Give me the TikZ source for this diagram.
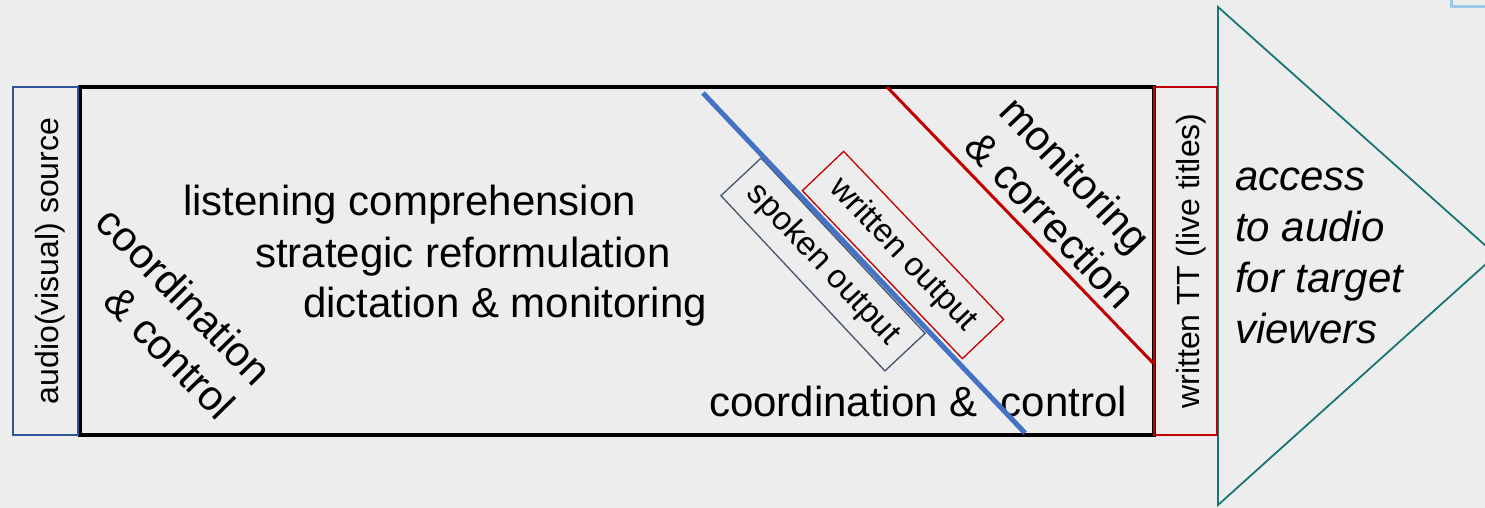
\documentclass[tikz,border=0pt]{standalone}
\usepackage{fontspec}
\setmainfont{Liberation Sans}
\definecolor{bg}{RGB}{237,237,237}
\definecolor{darkred}{RGB}{192,0,0}
\definecolor{lineblue}{RGB}{68,114,196}
\definecolor{srcblue}{RGB}{47,85,151}
\definecolor{slate}{RGB}{68,84,106}
\definecolor{tealline}{RGB}{24,118,114}
\definecolor{skyblue}{RGB}{157,200,230}
\begin{document}
\begin{tikzpicture}[x=1pt,y=-1pt,
  big/.style={font=\fontsize{42}{50}\selectfont, inner sep=0pt},
  mid/.style={font=\fontsize{32}{38}\selectfont},
  small/.style={font=\fontsize{33}{38}\selectfont},
  sidebox/.style={line width=#1, minimum width=348pt, rotate=90, mid},
  outbox/.style={line width=1.3pt, small, inner sep=2pt},
]
% canvas
\fill[bg] (0,0) rectangle (1485,508);
\useasboundingbox (0,0) rectangle (1485,508);

% output arrow (triangle)
\coordinate (tA) at (1218,7);
\coordinate (tB) at (1218,505);
\coordinate (tC) at (1496,255);
\draw[tealline, line width=1.8pt, line join=miter] (tA) -- (tC) -- (tB) -- cycle;

% main process box
\node[draw, line width=4pt, minimum width=1074pt, minimum height=348pt] (main) at (617,261) {};

% source and target side boxes
\node[draw=srcblue, sidebox=1.5pt, minimum height=65pt, text height=33pt] (src) at (45.5,261) {audio(visual) source};
\node[draw=darkred, sidebox=2pt, minimum height=63pt, text height=35pt] (tt) at (1185.5,261) {written TT (live titles)};

% task list
\node[big, anchor=base west] (t1) at (183,215) {listening comprehension};
\node[big, anchor=base west] (t2) at (255,267) {strategic reformulation};
\node[big, anchor=base west] (t3) at (303,317) {dictation \& monitoring};
\node[big, anchor=base west] (t4) at (709,416) {coordination \&\ \ control};

% diagonal labels
\node[big, rotate=-45.5, align=center] (cc) at (167,313.5) {coordination\\\hspace*{60pt}\& control};
\node[big, rotate=-46.5, align=center] (mc) at (1058,191) {monitoring\\\hspace*{32pt}\& correction};

% output boxes
\node[draw=slate, outbox, rotate=-46.9, minimum width=240pt, minimum height=55pt] (spoken) at (823,264.5) {spoken output};
\node[draw=darkred, outbox, rotate=-46.4, minimum width=232pt, minimum height=57pt] (written) at (903,255) {written output};

% dividing lines
\coordinate (b1) at (703,93);
\coordinate (b2) at (1025,433);
\coordinate (r1) at (887,87);
\coordinate (r2) at (1153,363);
\draw[lineblue, line width=5pt] (b1) -- (b2);
\draw[darkred, line width=3pt] (r1) -- (r2);

% result text
\node[big, font=\fontsize{42}{51}\selectfont\itshape, anchor=north west, align=left] (acc) at (1235,158)
  {\rule{0pt}{32pt}access\\to audio\\for target\\viewers};

% corner of a frame at the top right
\coordinate (k1) at (1451,-2);
\coordinate (k2) at (1451,6.5);
\coordinate (k3) at (1490,6.5);
\draw[skyblue, line width=3pt] (k1) -- (k2) -- (k3);
\end{tikzpicture}
\end{document}
